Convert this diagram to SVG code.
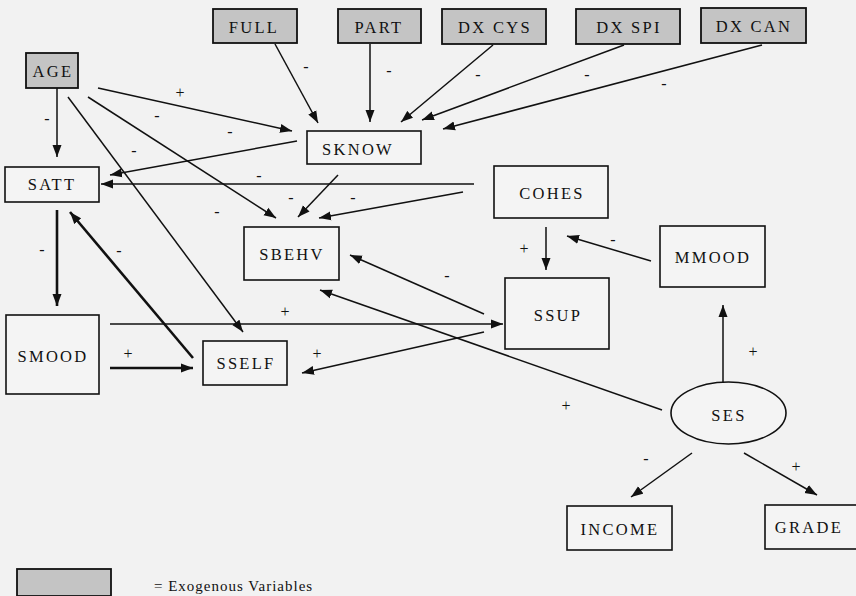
<svg xmlns="http://www.w3.org/2000/svg" width="856" height="596" viewBox="0 0 856 596">
<defs>
<marker id="ah" markerUnits="userSpaceOnUse" markerWidth="13" markerHeight="10" refX="12" refY="5" orient="auto">
<path d="M0,0.5 L12,5 L0,9.5 z" fill="#111"/>
</marker>
<style>
.bg{fill:#f2f2f2}
.box{fill:#f4f4f4;stroke:#111;stroke-width:1.6}
.exo{fill:#c4c4c4;stroke:#111;stroke-width:1.8}
.t{font-family:"Liberation Serif","Times New Roman",serif;font-size:16.5px;letter-spacing:2.3px;fill:#111;text-anchor:middle}
.c{fill:none;stroke:#111;stroke-width:1.5;marker-end:url(#ah)}
.k{stroke-width:2.6}
.l{font-family:"Liberation Serif","Times New Roman",serif;font-size:16px;fill:#111;text-anchor:middle}
.lg{font-family:"Liberation Serif","Times New Roman",serif;font-size:15px;letter-spacing:1px;fill:#111}
</style>
</defs>
<rect class="bg" x="0" y="0" width="856" height="596"/>

<g id="connectors">
<line class="c" x1="275" y1="44" x2="318" y2="123"/>
<line class="c" x1="370" y1="44" x2="370" y2="122"/>
<line class="c" x1="493" y1="45" x2="401" y2="122"/>
<line class="c" x1="624" y1="45" x2="422" y2="120"/>
<line class="c" x1="762" y1="45" x2="443" y2="129"/>
<line class="c" x1="98" y1="88" x2="292" y2="131"/>
<line class="c" x1="57" y1="88" x2="57" y2="157"/>
<line class="c" x1="68" y1="97" x2="243" y2="332"/>
<line class="c" x1="88" y1="97" x2="276" y2="218"/>
<line class="c" x1="297" y1="141" x2="110" y2="175"/>
<line class="c" x1="474" y1="184" x2="101" y2="184"/>
<line class="c" x1="338" y1="175" x2="298" y2="217"/>
<line class="c" x1="463" y1="192" x2="319" y2="218"/>
<line class="c" x1="484" y1="314" x2="350" y2="255"/>
<line class="c" x1="662" y1="410" x2="320" y2="290"/>
<line class="c" x1="110" y1="324" x2="503" y2="324"/>
<line class="c" x1="484" y1="332" x2="302" y2="373"/>
<line class="c k" x1="110" y1="368" x2="193" y2="368"/>
<line class="c k" x1="193" y1="358" x2="70" y2="212"/>
<line class="c k" x1="57" y1="210" x2="57" y2="306"/>
<line class="c" x1="546" y1="227" x2="546" y2="270"/>
<line class="c" x1="651" y1="261" x2="567" y2="236"/>
<line class="c" x1="723" y1="383" x2="723" y2="305"/>
<line class="c" x1="692" y1="453" x2="631" y2="497"/>
<line class="c" x1="744" y1="453" x2="817" y2="495"/>
</g>

<g id="labels">
<text class="l" x="306" y="72">-</text>
<text class="l" x="389" y="76">-</text>
<text class="l" x="478" y="80">-</text>
<text class="l" x="587" y="80">-</text>
<text class="l" x="664" y="89">-</text>
<text class="l" x="180" y="98">+</text>
<text class="l" x="47" y="124">-</text>
<text class="l" x="157" y="121">-</text>
<text class="l" x="230" y="137">-</text>
<text class="l" x="134" y="156">-</text>
<text class="l" x="259" y="181">-</text>
<text class="l" x="291" y="203">-</text>
<text class="l" x="353" y="203">-</text>
<text class="l" x="217" y="217">-</text>
<text class="l" x="447" y="281">-</text>
<text class="l" x="42" y="255">-</text>
<text class="l" x="119" y="256">-</text>
<text class="l" x="524" y="254">+</text>
<text class="l" x="613" y="245">-</text>
<text class="l" x="285" y="317">+</text>
<text class="l" x="128" y="359">+</text>
<text class="l" x="317" y="359">+</text>
<text class="l" x="753" y="357">+</text>
<text class="l" x="566" y="411">+</text>
<text class="l" x="646" y="464">-</text>
<text class="l" x="796" y="472">+</text>
</g>

<g id="FULL"><rect class="exo" x="213" y="9" width="84" height="34"/><text class="t" x="254" y="33">FULL</text></g>
<g id="PART"><rect class="exo" x="338" y="9" width="83" height="34"/><text class="t" x="379" y="33">PART</text></g>
<g id="DXCYS"><rect class="exo" x="442" y="9" width="104" height="35"/><text class="t" x="495" y="33">DX CYS</text></g>
<g id="DXSPI"><rect class="exo" x="576" y="9" width="104" height="35"/><text class="t" x="629" y="33">DX SPI</text></g>
<g id="DXCAN"><rect class="exo" x="701" y="8" width="105" height="35"/><text class="t" x="754" y="32">DX CAN</text></g>
<g id="AGE"><rect class="exo" x="26" y="53" width="52" height="35"/><text class="t" x="53" y="77">AGE</text></g>
<g id="SKNOW"><rect class="box" x="307" y="131" width="114" height="33"/><text class="t" x="358" y="155">SKNOW</text></g>
<g id="SATT"><rect class="box" x="5" y="167" width="94" height="35"/><text class="t" x="52" y="190">SATT</text></g>
<g id="SBEHV"><rect class="box" x="244" y="227" width="95" height="53"/><text class="t" x="292" y="260">SBEHV</text></g>
<g id="COHES"><rect class="box" x="494" y="166" width="114" height="52"/><text class="t" x="552" y="199">COHES</text></g>
<g id="MMOOD"><rect class="box" x="660" y="226" width="105" height="61"/><text class="t" x="713" y="263">MMOOD</text></g>
<g id="SSUP"><rect class="box" x="505" y="278" width="104" height="71"/><text class="t" x="558" y="321">SSUP</text></g>
<g id="SMOOD"><rect class="box" x="6" y="315" width="93" height="79"/><text class="t" x="53" y="362">SMOOD</text></g>
<g id="SSELF"><rect class="box" x="203" y="341" width="84" height="44"/><text class="t" x="246" y="369">SSELF</text></g>
<g id="SES"><ellipse class="box" cx="728.5" cy="413" rx="57.5" ry="31"/><text class="t" x="729" y="421">SES</text></g>
<g id="INCOME"><rect class="box" x="567" y="506" width="105" height="44"/><text class="t" x="620" y="535">INCOME</text></g>
<g id="GRADE"><rect class="box" x="765" y="505" width="92" height="44"/><text class="t" x="809" y="533">GRADE</text></g>

<g id="legend">
<rect class="exo" x="17" y="569" width="94" height="27"/>
<text class="lg" x="154" y="591">= Exogenous Variables</text>
</g>
</svg>
